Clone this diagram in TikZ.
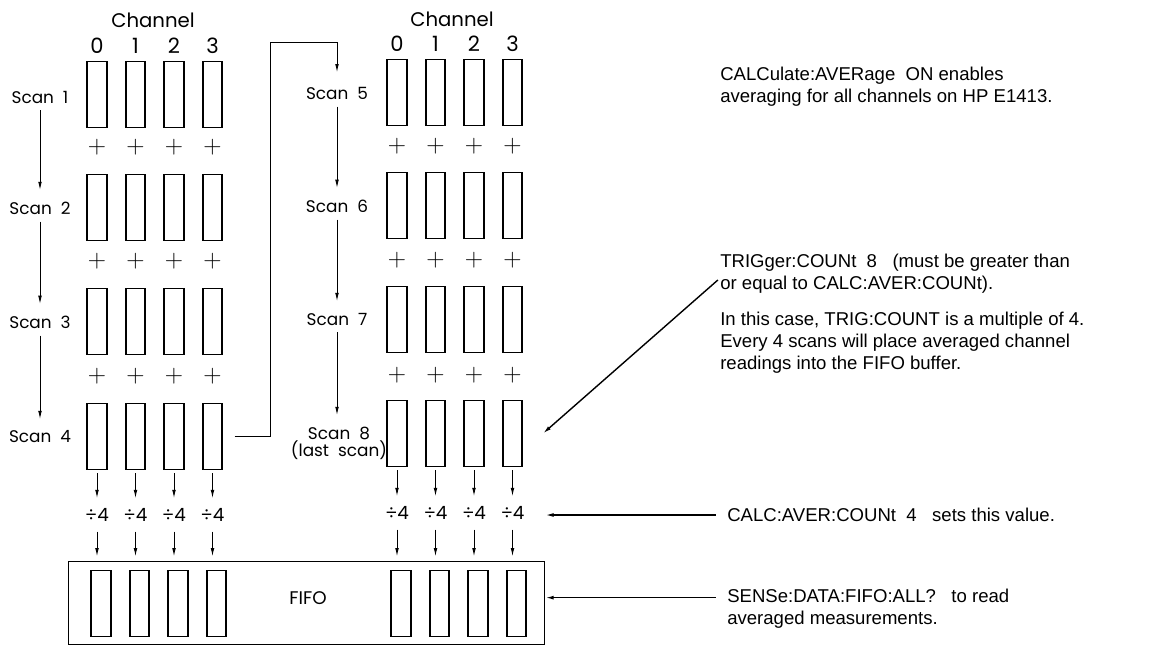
\documentclass[tikz,border=0pt]{standalone}
\usepackage{fontspec}
\newfontfamily\notefont{Liberation Sans}
\newfontfamily\labelfont{Poppins}
\usetikzlibrary{arrows.meta}

\begin{document}
\begin{tikzpicture}[x=0.025cm, y=-0.025cm,
  scanbox/.style={rectangle, draw, line width=1.3pt,
    minimum width=14pt, minimum height=47pt, inner sep=0pt},
  fifobox/.style={rectangle, draw, line width=0.6pt,
    minimum width=339pt, minimum height=59.5pt, inner sep=0pt},
  lbl/.style={inner sep=0pt, font=\labelfont\fontsize{12}{12}\selectfont},
  chnum/.style={inner sep=0pt, font=\labelfont\fontsize{15}{15}\selectfont},
  plus/.style={inner sep=0pt, font=\fontsize{18}{18}\selectfont},
  divnode/.style={inner xsep=0pt, inner ysep=7pt,
    font=\labelfont\fontsize{13}{13}\selectfont},
  note/.style={inner sep=0pt, align=left,
    font=\notefont\fontsize{13.2}{15.6}\selectfont},
  flow/.style={-{Latex[length=6pt,width=2.6pt]}, line width=0.7pt},
  pointer/.style={-{Latex[length=6pt,width=2.8pt]}, line width=1pt}
]
  \useasboundingbox (0,0) rectangle (1157,647);

  \node[lbl, font=\labelfont\fontsize{14}{14}\selectfont] (chanL) at (153,20) {Channel};
  \node[lbl, font=\labelfont\fontsize{14}{14}\selectfont] (chanR) at (452,19) {Channel};

  \node[fifobox] (fifo) at (306.5,603) {};
  \node[lbl, font=\labelfont\fontsize{13}{13}\selectfont] (fifolabel) at (308,598) {FIFO};

  %% the two scan columns, channel by channel
  \foreach \c/\xl/\xr in {0/97/397, 1/135.5/435.5, 2/174/474, 3/212.5/512.5} {
    \node[chnum] (numL\c) at (\xl,46) {\c};
    \node[chnum] (numR\c) at (\xr,44) {\c};
    \foreach \r/\yl/\yr in {1/94.5/92.5, 2/207.5/205.5, 3/321.5/319.5, 4/436.5/433.5} {
      \node[scanbox] (L\r-\c) at (\xl,\yl) {};
      \node[scanbox] (R\r-\c) at (\xr,\yr) {};
    }
    \foreach \p/\y in {1/147, 2/261, 3/376} {
      \node[plus] (plusL\p-\c) at (\xl,\y) {+};
      \node[plus] (plusR\p-\c) at (\xr,\y-1) {+};
    }
    \node[divnode] (dL\c) at (\xl,515) {÷4};
    \node[divnode] (dR\c) at (\xr,513) {÷4};
    \node[scanbox] (fL\c) at (\xl+4,603.5) {};
    \node[scanbox] (fR\c) at (\xr+4,603.5) {};

    \draw[flow, shorten <=2pt] (L4-\c) -- (dL\c);
    \draw[flow, shorten <=2pt] (R4-\c) -- (dR\c);
    \draw[flow, shorten >=3pt] (dL\c) -- (dL\c |- fifo.north);
    \draw[flow, shorten >=3pt] (dR\c) -- (dR\c |- fifo.north);
  }

  %% scan labels
  \node[lbl] (scan1) at (40,97)  {Scan\ \ 1};
  \node[lbl] (scan2) at (40,208) {Scan\ \ 2};
  \node[lbl] (scan3) at (40,322) {Scan\ \ 3};
  \node[lbl] (scan4) at (40,437) {Scan\ \ 4};
  \node[lbl] (scan5) at (337,93)  {Scan\ \ 5};
  \node[lbl] (scan6) at (337,206) {Scan\ \ 6};
  \node[lbl] (scan7) at (337,319) {Scan\ \ 7};
  \node[lbl, align=center, font=\labelfont\fontsize{12}{12}\selectfont]
    (scan8) at (339,443) {Scan\ \ 8\\(last\ \ scan)};

  \draw[flow, shorten <=5pt, shorten >=8pt] (scan1) -- (scan2);
  \draw[flow, shorten <=5pt, shorten >=8pt] (scan2) -- (scan3);
  \draw[flow, shorten <=5pt, shorten >=8pt] (scan3) -- (scan4);
  \draw[flow, shorten <=5pt, shorten >=8pt] (scan5) -- (scan6);
  \draw[flow, shorten <=5pt, shorten >=8pt] (scan6) -- (scan7);
  \draw[flow, shorten <=5pt, shorten >=8pt] (scan7) -- (scan7 |- scan8.north);

  %% carry on from scan 4 to scan 5
  \coordinate (jog) at (270,42);
  \draw[flow, shorten <=8pt, shorten >=10pt] (L4-3.east) -| (jog) -| (scan5.north);

  %% notes on the right
  \node[note, anchor=north west] (calcon) at (720,67)
    {CALCulate:AVERage\ \ ON enables\\averaging for all channels on HP E1413.};
  \node[note, anchor=north west] (trig) at (720,254)
    {TRIGger:COUNt\ \ 8\ \ \ (must be greater than\\or equal to CALC:AVER:COUNt).};
  \node[note, anchor=north west] (case) at (720,312)
    {In this case, TRIG:COUNT is a multiple of 4.\\Every 4 scans will place averaged channel\\readings into the FIFO buffer.};
  \node[note, anchor=west] (avgcount) at (727,515)
    {CALC:AVER:COUNt\ \ 4\ \ \ sets this value.};
  \node[note, anchor=north west] (fiforead) at (727,589)
    {SENSe:DATA:FIFO:ALL?\ \ \ to read\\averaged measurements.};

  \coordinate (trigpt) at ([yshift=-3pt]trig.west);
  \coordinate (readpt) at ([yshift=8pt]fiforead.west);
  \draw[pointer, shorten <=2pt] (trigpt) -- ([xshift=14pt]R4-3.east);
  \draw[pointer, shorten <=8pt] (avgcount.west) -- (avgcount.west -| fifo.east);
  \draw[pointer, shorten <=8pt] (readpt) -- (readpt -| fifo.east);
\end{tikzpicture}
\end{document}
